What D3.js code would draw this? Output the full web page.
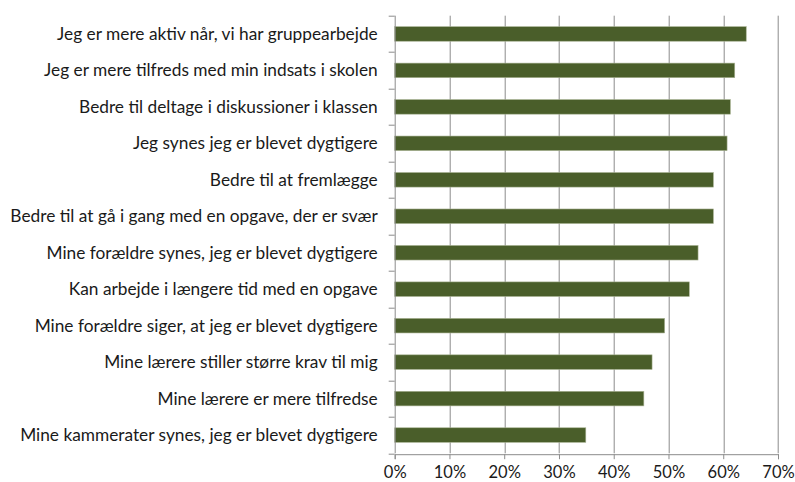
<!DOCTYPE html>
<html>
<head>
<meta charset="utf-8">
<script src="https://cdn.jsdelivr.net/npm/d3@7"></script>
<style>
  body { margin: 0; background: #fff; }
  svg text { font-family: Lato, "Open Sans", sans-serif; fill: #1a1a1a; }
</style>
</head>
<body>
<svg id="chart" width="795" height="482"></svg>
<script>
var categories = [
  'Jeg er mere aktiv når, vi har gruppearbejde',
  'Jeg er mere tilfreds med min indsats i skolen',
  'Bedre til deltage i diskussioner i klassen',
  'Jeg synes jeg er blevet dygtigere',
  'Bedre til at fremlægge',
  'Bedre til at gå i gang med en opgave, der er svær',
  'Mine forældre synes, jeg er blevet dygtigere',
  'Kan arbejde i længere tid med en opgave',
  'Mine forældre siger, at jeg er blevet dygtigere',
  'Mine lærere stiller større krav til mig',
  'Mine lærere er mere tilfredse',
  'Mine kammerater synes, jeg er blevet dygtigere'
];
var values = [0.642, 0.621, 0.613, 0.607, 0.582, 0.582, 0.554, 0.538, 0.493, 0.470, 0.455, 0.349];
var tickValues = [0, 0.1, 0.2, 0.3, 0.4, 0.5, 0.6, 0.7];

var margin = {top: 15.7, right: 17, bottom: 28.7, left: 394.7};
var width = 795 - margin.left - margin.right;
var height = 482 - margin.top - margin.bottom;

var svg = d3.select('#chart');
var g = svg.append('g').attr('transform', 'translate(' + margin.left + ',' + margin.top + ')');

var x = d3.scaleLinear().domain([0, 0.7]).range([0, width]);
var y = d3.scaleBand().domain(categories).range([0, height]).paddingInner(0.6).paddingOuter(0.3);

// gridlines
g.selectAll('.grid-line').data(tickValues.slice(1))
  .enter().append('line')
  .attr('class', 'grid-line')
  .attr('x1', function(d) { return Math.round(x(d)) + 0.5; })
  .attr('x2', function(d) { return Math.round(x(d)) + 0.5; })
  .attr('y1', 0)
  .attr('y2', height)
  .attr('stroke', '#8c8c8c')
  .attr('stroke-width', 1);

// bars
g.selectAll('.bar').data(values)
  .enter().append('rect')
  .attr('class', 'bar')
  .attr('x', 0)
  .attr('y', function(d, i) { return y(categories[i]); })
  .attr('width', function(d) { return x(d); })
  .attr('height', y.bandwidth())
  .attr('fill', '#4a5e2a')
  .attr('stroke', '#a9b394')
  .attr('stroke-width', 0.6);

// left axis with ticks at band boundaries
var step = height / categories.length;
var boundaries = d3.range(categories.length + 1);
g.append('line')
  .attr('x1', 0.5).attr('x2', 0.5)
  .attr('y1', 0).attr('y2', height)
  .attr('stroke', '#8c8c8c');
g.selectAll('.ytick').data(boundaries)
  .enter().append('line')
  .attr('class', 'ytick')
  .attr('x1', -6).attr('x2', 0)
  .attr('y1', function(d) { return Math.round(d * step) + 0.5; })
  .attr('y2', function(d) { return Math.round(d * step) + 0.5; })
  .attr('stroke', '#8c8c8c');

g.selectAll('.ylabel').data(categories)
  .enter().append('text')
  .attr('class', 'ylabel')
  .attr('x', -17)
  .attr('y', function(d) { return y(d) + y.bandwidth() / 2; })
  .attr('dy', '0.35em')
  .attr('text-anchor', 'end')
  .style('font-size', '17.3px')
  .text(function(d) { return d; });

// bottom axis
var xAxis = d3.axisBottom(x)
  .tickValues(tickValues)
  .tickFormat(d3.format('.0%'))
  .tickSize(5)
  .tickPadding(7);
var xg = g.append('g')
  .attr('transform', 'translate(0,' + (Math.round(height) + 0.5) + ')')
  .call(xAxis);
xg.select('.domain').attr('stroke', '#8c8c8c');
xg.selectAll('.tick line').attr('stroke', '#8c8c8c');
xg.selectAll('.tick text').style('font-size', '16.5px').attr('fill', '#1a1a1a');
</script>
</body>
</html>
